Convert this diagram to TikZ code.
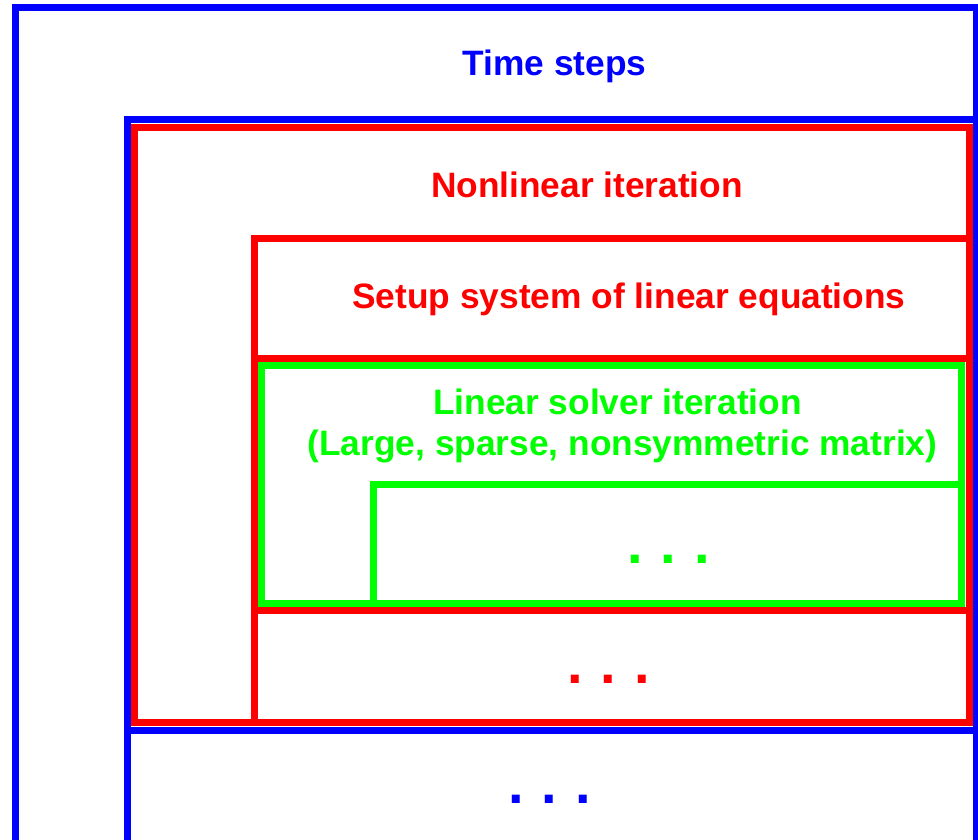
\documentclass[tikz,border=0pt]{standalone}
\usepackage{fontspec}
\setmainfont{Liberation Sans}
\definecolor{pblue}{RGB}{0,0,255}
\definecolor{pred}{RGB}{255,0,0}
\definecolor{pgreen}{RGB}{0,255,0}
\begin{document}
\begin{tikzpicture}[x=1pt,y=-1pt,
  frame/.style={line width=7pt, line join=miter},
  bluef/.style={frame, draw=pblue},
  redf/.style={frame, draw=pred},
  greenf/.style={frame, draw=pgreen},
  lbl/.style={anchor=base, inner sep=0pt, font=\fontsize{35.3}{40}\selectfont\bfseries},
  dots/.style={anchor=base, inner sep=0pt, font=\fontsize{56}{60}\selectfont\bfseries}
]
\useasboundingbox (0,0) rectangle (978,839);
\fill[white] (0,0) rectangle (978,839);
% Time steps frame
\draw[bluef] (15.5,860) -- (15.5,7.5) -- (976,7.5) -- (976,860);
\draw[bluef] (127.5,860) -- (127.5,119) -- (976,119);
\draw[bluef] (127.5,730) -- (976,730);
% Nonlinear iteration frame
\draw[redf] (134.5,127) rectangle (969.5,722.5);
\draw[redf] (254.5,722.5) -- (254.5,238.5) -- (969.5,238.5);
\draw[redf] (254.5,358.5) -- (969.5,358.5);
\draw[redf] (254.5,610.5) -- (969.5,610.5);
% Linear solver frame
\draw[greenf] (261.5,365.5) rectangle (961.5,603.5);
\draw[greenf] (373,603.5) -- (373,484.5) -- (961.5,484.5);
% Labels
\node[lbl, text=pblue] (ts) at (554.5,75) {Time steps};
\node[lbl, text=pred] (nl) at (587,197) {Nonlinear iteration};
\node[lbl, text=pred] (su) at (629,308) {Setup system of linear equations};
\node[lbl, text=pgreen] (ls) at (617.5,414) {Linear solver iteration};
\node[lbl, text=pgreen] (lm) at (622.5,455) {(Large, sparse, nonsymmetric matrix)};
\node[dots, text=pgreen] (gd) at (668.5,563) {.\hspace{17.9pt}.\hspace{17.9pt}.};
\node[dots, text=pred] (rd) at (608.5,683) {.\hspace{17.9pt}.\hspace{17.9pt}.};
\node[dots, text=pblue] (bd) at (549.5,803) {.\hspace{17.9pt}.\hspace{17.9pt}.};
\end{tikzpicture}
\end{document}
